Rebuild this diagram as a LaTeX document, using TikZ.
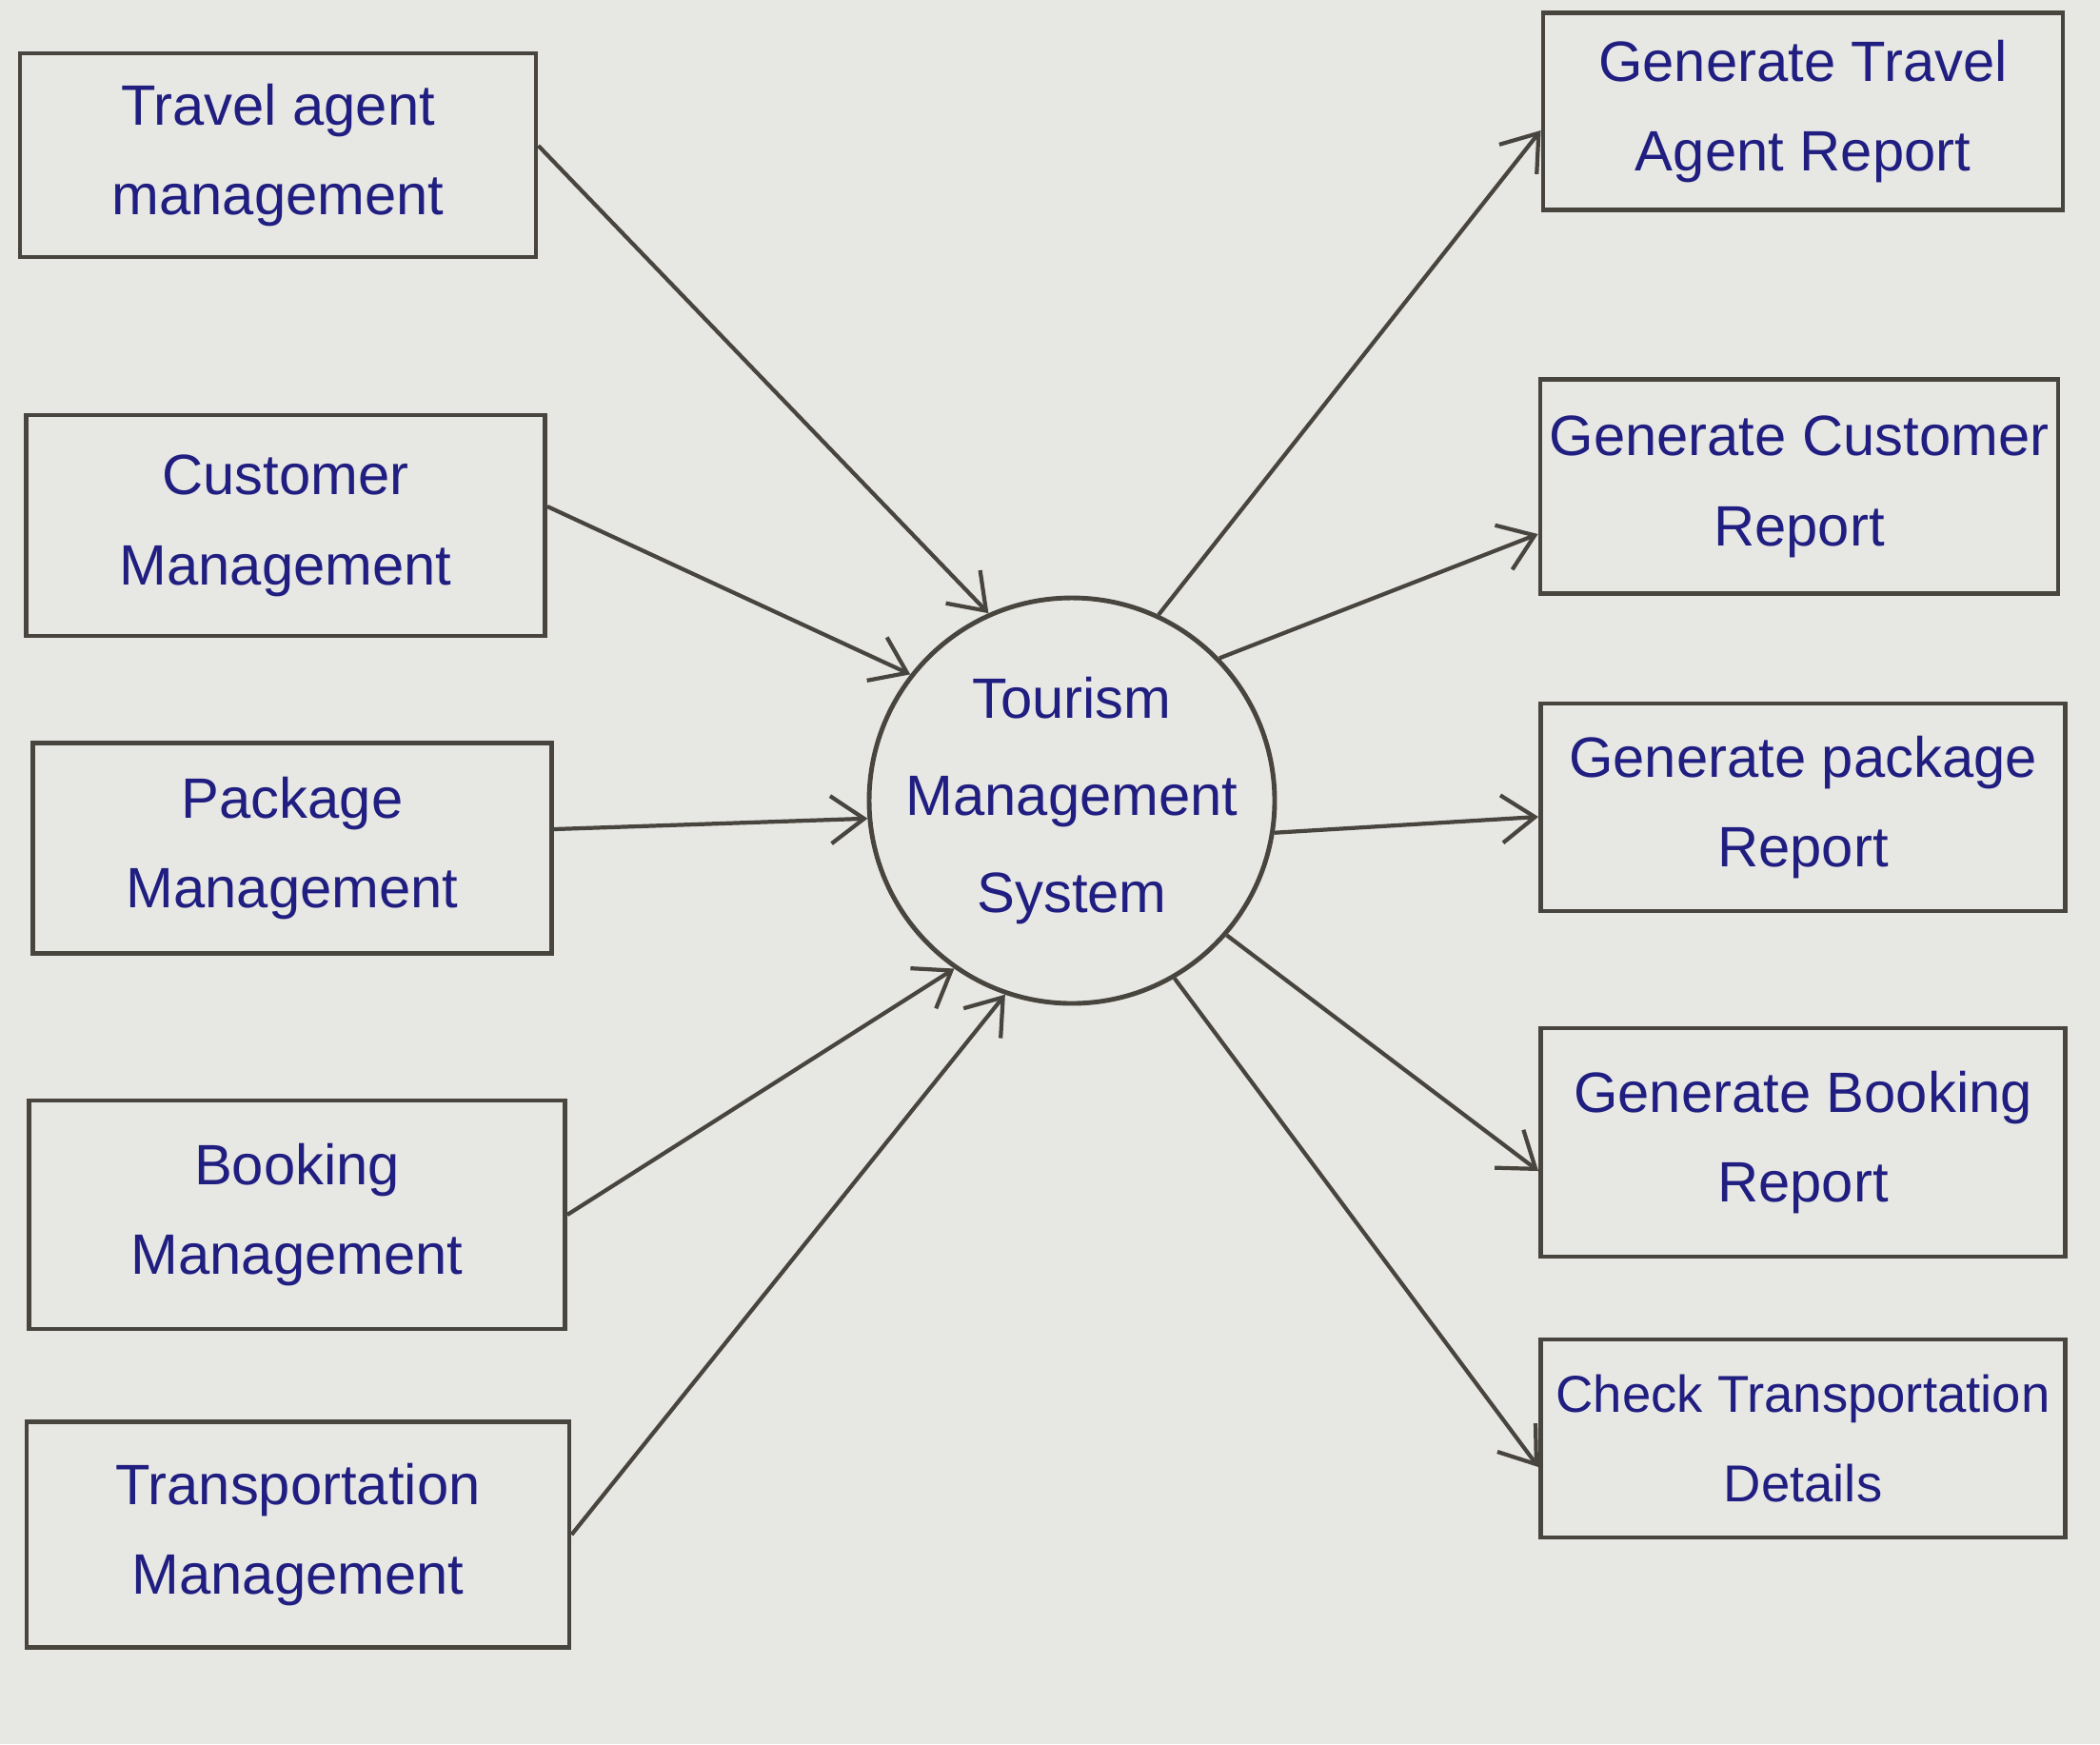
\documentclass[tikz,border=0pt]{standalone}
\usepackage{fontspec}
\setmainfont{Liberation Sans}
\usetikzlibrary{arrows.meta}
\definecolor{paper}{RGB}{231,231,227}
\definecolor{ink}{RGB}{32,30,128}
\definecolor{pencil}{RGB}{72,68,62}

\begin{document}
\begin{tikzpicture}[
  box/.style={draw=pencil, line width=1.4pt, text=ink, align=center,
    font=\fontsize{17}{27}\selectfont, inner sep=2pt},
  hub/.style={draw=pencil, circle, line width=1.4pt, text=ink, align=center,
    font=\fontsize{17}{29}\selectfont, inner sep=-1.5mm, minimum size=4.26cm},
  flow/.style={draw=pencil, line width=1.2pt,
    -{Straight Barb[length=3.5mm,width=5mm]}}
]
\fill[paper] (0,0) rectangle (22.06,-18.32);

% left side: input modules
\node[box, minimum width=5.42cm, minimum height=2.14cm] (agent) at (2.92,-1.63) {Travel agent\\management};
\node[box, minimum width=5.45cm, minimum height=2.32cm] (customer) at (3.00,-5.52) {Customer\\Management};
\node[box, minimum width=5.45cm, minimum height=2.21cm] (package) at (3.07,-8.91) {Package\\Management};
\node[box, minimum width=5.63cm, minimum height=2.40cm] (booking) at (3.12,-12.76) {Booking\\Management};
\node[box, minimum width=5.70cm, minimum height=2.37cm] (transport) at (3.13,-16.12) {Transportation\\Management};

% centre
\node[hub] (tms) at (11.26,-8.41) {Tourism\\Management\\System};

% right side: reports
\node[box, minimum width=5.46cm, minimum height=2.07cm] (agentrep) at (18.94,-1.17) {Generate Travel\\Agent Report};
\node[box, minimum width=5.44cm, minimum height=2.25cm] (customerrep) at (18.90,-5.11) {Generate Customer\\Report};
\node[box, minimum width=5.51cm, minimum height=2.18cm] (packagerep) at (18.94,-8.48) {Generate package\\Report};
\node[box, minimum width=5.51cm, minimum height=2.40cm] (bookingrep) at (18.94,-12.00) {Generate Booking\\Report};
\node[box, minimum width=5.51cm, minimum height=2.08cm, font=\fontsize{15.5}{27}\selectfont] (transportrep) at (18.94,-15.11) {Check Transportation\\Details};

% inputs
\draw[flow] ([yshift=1mm]agent.east) -- (tms.114);
\draw[flow] ([yshift=2mm]customer.east) -- (tms.142);
\draw[flow] ([yshift=2mm]package.east) -- (tms.185);
\draw[flow] (booking.east) -- (tms.235);
\draw[flow] (transport.east) -- (tms.251);

% outputs
\draw[flow] (tms.65) -- ([yshift=-2mm]agentrep.west);
\draw[flow] (tms.44) -- ([yshift=-5mm]customerrep.west);
\draw[flow] (tms.-9) -- ([yshift=-1mm]packagerep.west);
\draw[flow] (tms.-41) -- ([yshift=-3mm]bookingrep.west);
\draw[flow] (tms.-60) -- ([yshift=-3mm]transportrep.west);
\end{tikzpicture}
\end{document}
